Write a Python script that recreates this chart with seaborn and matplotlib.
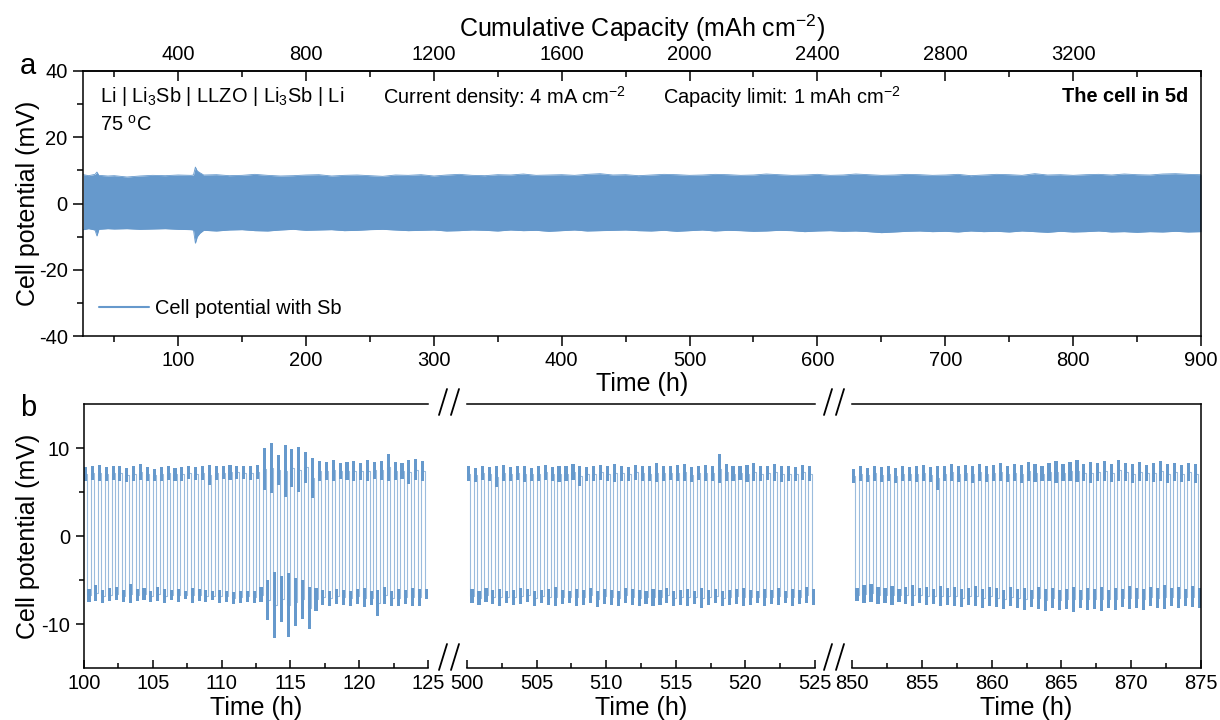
import numpy as np
import pandas as pd
import matplotlib
matplotlib.use("Agg")
import matplotlib.pyplot as plt
import seaborn as sns
from matplotlib.lines import Line2D
from matplotlib.ticker import MultipleLocator, FixedLocator

# ---------------- data ----------------
# Panel a: envelope of the cycling trace (mV)
env_t = [26, 30, 35, 36.5, 38, 45, 50, 60, 70, 80, 90, 100, 110, 112, 113.5, 115, 117, 120,
         130, 140, 150, 160, 170, 180, 190, 200, 210, 220, 230, 240, 250, 260, 270, 280, 290,
         300, 310, 320, 330, 340, 350, 360, 370, 380, 390, 400, 410, 420, 430, 440, 450, 460,
         470, 480, 490, 500, 510, 520, 530, 540, 550, 560, 570, 580, 590, 600, 610, 620, 630,
         640, 650, 660, 670, 680, 690, 700, 710, 720, 730, 740, 750, 760, 770, 780, 790, 800,
         810, 820, 830, 840, 850, 860, 870, 880, 890, 900]
env_top = [8.7, 8.4, 8.8, 9.5, 8.5, 8.3, 8.4, 8.0, 8.3, 8.5, 8.4, 8.6, 8.5, 8.6, 11.0, 9.8, 9.3, 8.6,
           8.7, 8.4, 8.5, 8.8, 8.5, 8.3, 8.4, 8.6, 8.7, 8.3, 8.5, 8.6, 8.4, 8.2, 8.6, 8.5, 8.7,
           8.3, 8.6, 8.8, 8.5, 8.4, 8.7, 8.6, 8.9, 8.5, 8.6, 8.7, 8.5, 8.8, 9.0, 8.6, 8.7, 8.4,
           8.6, 8.8, 8.7, 8.5, 8.6, 8.8, 8.7, 8.5, 8.6, 8.9, 8.7, 8.5, 8.6, 8.8, 8.5, 8.6, 8.9,
           8.7, 8.5, 8.6, 8.8, 8.7, 8.5, 8.6, 8.8, 8.4, 8.6, 8.8, 8.7, 8.5, 9.0, 8.6, 8.7, 8.5,
           8.7, 8.8, 8.6, 8.9, 8.7, 8.6, 8.9, 9.0, 8.8, 8.7]
env_bot = [-7.9, -7.6, -8.0, -9.8, -7.8, -7.6, -7.7, -7.6, -7.8, -7.7, -7.6, -7.8, -7.9, -8.0, -12.0, -10.0, -9.0, -8.1,
           -8.3, -8.0, -7.9, -8.2, -8.3, -8.0, -7.8, -8.1, -8.0, -7.9, -8.2, -8.1, -7.9, -7.8, -8.0, -8.2, -8.1,
           -8.0, -8.3, -8.2, -8.0, -8.1, -8.3, -8.0, -8.2, -8.1, -8.4, -8.2, -8.0, -8.3, -8.2, -8.1, -8.0, -8.2,
           -8.3, -8.1, -8.4, -8.2, -8.0, -8.3, -8.1, -8.2, -8.4, -8.3, -8.1, -8.2, -8.5, -8.3, -8.2, -8.4, -8.3,
           -8.5, -8.8, -8.6, -8.4, -8.3, -8.5, -8.4, -8.6, -8.3, -8.5, -8.4, -8.6, -8.3, -8.5, -8.7, -8.4, -8.6,
           -8.5, -8.3, -8.6, -8.5, -8.7, -8.5, -8.6, -8.4, -8.6, -8.5]

# Panel b: per-cycle plateau limits (mV); 50 cycles of 0.5 h in each 25 h window
seg_starts = [100, 500, 850]
seg_ticks = [[100, 105, 110, 115, 120, 125],
             [500, 505, 510, 515, 520, 525],
             [850, 855, 860, 865, 870, 875]]

pos_hi1 = [7.8, 7.9, 8.1, 7.8, 7.9, 8.0, 7.7, 7.9, 8.2, 7.8,
           7.6, 7.8, 7.9, 7.7, 7.8, 7.9, 7.8, 8.0, 8.1, 7.9,
           7.9, 8.1, 8.0, 7.9, 8.0, 8.1, 10.0, 10.6, 9.2, 10.3,
           9.9, 10.1, 9.6, 8.9, 8.5, 8.4, 8.6, 8.3, 8.4, 8.5,
           8.3, 8.6, 8.4, 8.5, 9.3, 8.4, 8.3, 8.6, 8.7, 8.5]
pos_lo1 = [6.2, 6.4, 6.3, 6.2, 6.4, 6.3, 6.1, 6.3, 6.4, 6.2,
           6.3, 6.2, 6.4, 6.3, 6.3, 6.5, 6.4, 6.4, 5.8, 6.4,
           6.5, 6.4, 6.5, 6.5, 6.4, 6.5, 5.2, 4.9, 5.8, 4.4,
           5.6, 5.0, 6.0, 4.3, 6.2, 6.4, 6.3, 6.5, 6.4, 6.3,
           6.4, 6.2, 6.5, 6.4, 6.3, 6.4, 6.5, 5.9, 6.4, 6.3]
neg_hi1 = [-6.0, -5.6, -6.1, -5.9, -5.8, -6.1, -5.5, -6.0, -5.9, -6.2,
           -5.8, -6.0, -6.1, -6.0, -6.2, -5.9, -6.0, -6.1, -6.3, -6.1,
           -6.2, -6.4, -6.3, -6.2, -6.3, -5.8, -5.0, -4.1, -4.6, -4.2,
           -4.8, -5.0, -5.8, -5.9, -6.1, -6.2, -6.0, -6.1, -6.2, -6.0,
           -5.9, -6.3, -6.1, -5.8, -6.2, -6.0, -6.1, -5.9, -6.0, -6.0]
neg_lo1 = [-7.5, -7.4, -7.6, -7.4, -7.3, -7.5, -7.6, -7.4, -7.3, -7.5,
           -7.4, -7.6, -7.3, -7.5, -7.2, -7.6, -7.4, -7.5, -7.3, -7.6,
           -7.5, -7.7, -7.6, -7.5, -7.6, -7.5, -9.5, -11.6, -9.8, -11.5,
           -10.2, -9.4, -10.6, -8.5, -7.8, -7.9, -7.7, -7.8, -8.0, -7.7,
           -8.1, -7.8, -9.1, -7.7, -7.9, -8.0, -7.7, -8.0, -7.9, -7.2]

pos_hi2 = [7.9, 7.7, 8.0, 7.8, 7.9, 8.1, 7.8, 7.9, 8.0, 7.7,
           7.9, 8.1, 7.8, 8.0, 7.9, 8.2, 7.9, 7.8, 8.0, 8.1,
           7.9, 8.2, 8.0, 7.8, 8.1, 8.0, 7.9, 8.3, 8.0, 7.9,
           8.1, 8.2, 7.8, 8.0, 8.1, 8.0, 9.3, 8.2, 8.0, 7.9,
           8.1, 8.3, 7.9, 8.0, 8.2, 7.9, 8.0, 7.8, 8.1, 7.9]
pos_lo2 = [6.3, 6.1, 6.4, 6.2, 5.6, 6.3, 6.2, 6.4, 6.1, 6.3,
           6.2, 6.4, 6.3, 6.1, 6.2, 6.4, 5.7, 6.3, 6.2, 6.4,
           6.3, 6.1, 6.3, 6.2, 6.4, 6.3, 6.2, 6.1, 6.3, 6.4,
           6.2, 6.3, 6.1, 6.4, 6.2, 6.3, 6.0, 6.3, 6.2, 6.4,
           6.1, 6.3, 6.2, 6.4, 6.3, 6.1, 6.2, 6.3, 6.4, 6.2]
neg_hi2 = [-6.0, -6.2, -5.9, -6.1, -6.0, -6.2, -6.1, -5.9, -6.0, -6.2,
           -6.1, -6.0, -5.8, -6.1, -6.2, -6.0, -6.1, -5.9, -6.2, -6.0,
           -6.1, -6.2, -5.9, -6.0, -6.1, -6.2, -6.0, -6.1, -5.9, -6.2,
           -6.1, -6.0, -6.2, -5.9, -6.1, -6.0, -6.2, -6.1, -6.0, -5.9,
           -6.1, -6.2, -6.0, -6.1, -5.9, -6.2, -6.0, -6.1, -5.8, -6.0]
neg_lo2 = [-7.6, -7.8, -7.5, -7.7, -7.9, -7.6, -7.8, -7.7, -7.5, -7.9,
           -7.6, -7.8, -8.0, -7.7, -7.6, -7.9, -7.8, -7.6, -8.1, -7.7,
           -7.8, -7.9, -7.6, -7.8, -8.0, -7.7, -7.9, -7.8, -7.6, -8.0,
           -7.8, -7.9, -7.7, -8.2, -7.8, -7.6, -7.9, -7.8, -7.7, -8.0,
           -7.8, -7.6, -7.9, -7.7, -7.8, -7.6, -7.9, -7.7, -7.6, -7.8]

pos_hi3 = [7.6, 7.9, 7.7, 8.0, 7.8, 7.9, 7.7, 8.0, 7.8, 7.9,
           8.1, 7.8, 7.9, 8.0, 8.2, 7.9, 8.1, 8.0, 8.2, 7.9,
           8.1, 8.3, 8.0, 8.2, 8.1, 8.4, 8.2, 8.0, 8.3, 8.5,
           8.2, 8.4, 8.6, 8.2, 8.4, 8.3, 8.5, 8.2, 8.6, 8.3,
           8.2, 8.4, 8.1, 8.3, 8.5, 8.2, 8.3, 8.1, 8.3, 8.2]
pos_lo3 = [6.0, 6.2, 6.1, 6.3, 6.1, 6.2, 6.0, 6.2, 6.3, 6.1,
           6.2, 6.1, 5.2, 6.2, 6.3, 6.1, 6.2, 6.0, 6.3, 6.1,
           6.2, 6.3, 6.1, 6.2, 6.0, 6.3, 6.1, 6.2, 6.3, 6.0,
           6.2, 6.3, 6.1, 6.2, 6.0, 6.3, 6.2, 6.1, 6.3, 6.2,
           6.0, 6.2, 6.3, 6.1, 6.2, 6.0, 6.3, 6.1, 6.2, 6.0]
neg_hi3 = [-5.9, -5.6, -5.5, -5.8, -5.9, -5.7, -6.0, -5.8, -5.6, -5.9,
           -5.8, -6.0, -5.7, -5.9, -5.8, -6.0, -5.9, -5.7, -6.0, -5.8,
           -5.9, -6.1, -5.8, -6.0, -5.9, -6.1, -5.8, -6.0, -5.9, -6.1,
           -6.0, -5.8, -6.1, -5.9, -6.0, -5.8, -6.1, -5.9, -6.0, -5.7,
           -5.9, -6.0, -5.8, -5.9, -5.6, -5.9, -5.8, -6.0, -5.7, -5.9]
neg_lo3 = [-7.4, -7.6, -7.5, -7.7, -7.6, -7.8, -7.5, -7.7, -7.9, -7.6,
           -7.8, -7.7, -8.0, -7.8, -7.9, -8.1, -7.8, -8.0, -8.2, -7.9,
           -8.1, -8.3, -8.0, -8.2, -8.4, -8.1, -8.3, -8.5, -8.2, -8.4,
           -8.3, -8.6, -8.2, -8.4, -8.3, -8.5, -8.2, -8.4, -8.1, -8.3,
           -8.2, -8.4, -8.0, -8.2, -8.3, -8.0, -8.2, -7.9, -8.1, -8.2]

cycle_h = 0.5          # 1 mAh cm-2 at 4 mA cm-2 -> 0.25 h per half cycle
cap_ticks = [400, 800, 1200, 1600, 2000, 2400, 2800, 3200]
time_ticks_a = [100, 200, 300, 400, 500, 600, 700, 800, 900]

# ---------------- style ----------------
sns.set_theme(style="ticks")
plt.rcParams["font.family"] = ["Liberation Sans", "DejaVu Sans"]
plt.rcParams["mathtext.fontset"] = "custom"
plt.rcParams["mathtext.rm"] = "Liberation Sans"
plt.rcParams["mathtext.it"] = "Liberation Sans"
plt.rcParams["mathtext.default"] = "regular"
plt.rcParams["axes.unicode_minus"] = False
plt.rcParams["axes.linewidth"] = 1.1
plt.rcParams["axes.edgecolor"] = "black"
plt.rcParams["text.color"] = "black"
plt.rcParams["axes.labelcolor"] = "black"
plt.rcParams["xtick.color"] = "black"
plt.rcParams["ytick.color"] = "black"

BLUE = "#6699cc"
TICK_FS = 14.5
LAB_FS = 18
ANN_FS = 14.4

W, H = 1220, 720
fig = plt.figure(figsize=(W / 100, H / 100), dpi=100)


def rect(x0, x1, ytop, ybot):
    return [x0 / W, 1 - ybot / H, (x1 - x0) / W, (ybot - ytop) / H]


# ---------------- panel a ----------------
axa = fig.add_axes(rect(83, 1201, 71, 336))
dfa = pd.DataFrame({"t": env_t, "top": env_top, "bot": env_bot})
axa.fill_between(dfa["t"], dfa["bot"], dfa["top"], color=BLUE, lw=0)
sns.lineplot(data=dfa, x="t", y="top", ax=axa, color=BLUE, lw=0.6, estimator=None, sort=False)
sns.lineplot(data=dfa, x="t", y="bot", ax=axa, color=BLUE, lw=0.6, estimator=None, sort=False)
axa.set_xlim(25.6, 900)
axa.set_ylim(-40, 40)
axa.xaxis.set_major_locator(FixedLocator(time_ticks_a))
axa.xaxis.set_minor_locator(MultipleLocator(50))
axa.yaxis.set_major_locator(MultipleLocator(20))
axa.yaxis.set_minor_locator(MultipleLocator(10))
axa.tick_params(axis="both", which="major", direction="out", length=7, width=1.1,
                labelsize=TICK_FS, pad=4)
axa.tick_params(axis="both", which="minor", direction="out", length=4, width=1.1)
axa.set_xlabel("Time (h)", fontsize=LAB_FS, labelpad=1)
axa.set_ylabel("Cell potential (mV)", fontsize=LAB_FS)
axa.yaxis.set_label_coords((40 - 83) / 1118, 0.5)

sec = axa.secondary_xaxis("top", functions=(lambda t: np.asarray(t) * 4.0,
                                             lambda c: np.asarray(c) / 4.0))
sec.xaxis.set_major_locator(FixedLocator(cap_ticks))
sec.xaxis.set_minor_locator(MultipleLocator(200))
sec.tick_params(axis="x", which="major", direction="in", length=7, width=1.1,
                labelsize=TICK_FS, pad=5)
sec.tick_params(axis="x", which="minor", direction="in", length=4, width=1.1)
sec.set_xlabel("Cumulative Capacity (mAh cm$^{-2}$)", fontsize=LAB_FS, labelpad=6)

axa.text(0.0152, 0.902, "Li | Li$_3$Sb | LLZO | Li$_3$Sb | Li", transform=axa.transAxes,
         fontsize=ANN_FS, ha="left", va="center")
axa.text(0.0152, 0.796, "75 $^o$C", transform=axa.transAxes, fontsize=ANN_FS, ha="left", va="center")
axa.text(0.268, 0.902, "Current density: 4 mA cm$^{-2}$", transform=axa.transAxes,
         fontsize=ANN_FS, ha="left", va="center")
axa.text(0.519, 0.902, "Capacity limit: 1 mAh cm$^{-2}$", transform=axa.transAxes,
         fontsize=ANN_FS, ha="left", va="center")
axa.text(0.9884, 0.902, "The cell in 5d", transform=axa.transAxes, fontsize=ANN_FS,
         ha="right", va="center", fontweight="bold")

handle = Line2D([], [], color=BLUE, lw=1.5)
axa.legend([handle], ["Cell potential with Sb"], loc="center left",
           bbox_to_anchor=(0.005, 0.102), frameon=False, fontsize=ANN_FS,
           handlelength=2.5, handletextpad=0.3, borderpad=0.2, borderaxespad=0.3)

fig.text(28 / W, 1 - 66 / H, "a", fontsize=21, ha="center", va="center")
fig.text(28 / W, 1 - 408 / H, "b", fontsize=21, ha="center", va="center")

# ---------------- panel b ----------------
segs = [(pos_hi1, pos_lo1, neg_hi1, neg_lo1),
        (pos_hi2, pos_lo2, neg_hi2, neg_lo2),
        (pos_hi3, pos_lo3, neg_hi3, neg_lo3)]
seg_px = [(84, 428), (467, 815), (852, 1201)]

for i, ((ph, pl, nh, nl), start, (x0, x1), ticks) in enumerate(
        zip(segs, seg_starts, seg_px, seg_ticks)):
    ax = fig.add_axes(rect(x0, x1, 404, 668))
    ph, pl, nh, nl = map(np.asarray, (ph, pl, nh, nl))
    n = len(ph)
    t0 = start + cycle_h * np.arange(n)
    th = t0 + cycle_h / 2
    pm = (ph + pl) / 2
    nm = (nh + nl) / 2
    xs, ys = [], []
    for k in range(n):
        xs += [t0[k], t0[k], th[k], th[k]]
        ys += [nm[k - 1] if k > 0 else pm[k], pm[k], pm[k], nm[k]]
    xs.append(start + 25)
    ys.append(nm[-1])
    dfb = pd.DataFrame({"t": xs, "v": ys})
    sns.lineplot(data=dfb, x="t", y="v", ax=ax, color=BLUE, lw=0.8, alpha=0.65,
                 estimator=None, sort=False)
    ax.bar(t0, ph - pl, bottom=pl, width=cycle_h / 2 * 0.9, align="edge", color=BLUE, lw=0)
    ax.bar(th, nh - nl, bottom=nl, width=cycle_h / 2 * 0.9, align="edge", color=BLUE, lw=0)

    ax.set_xlim(start, start + 25)
    ax.set_ylim(-15, 15)
    ax.xaxis.set_major_locator(FixedLocator(ticks))
    ax.xaxis.set_minor_locator(MultipleLocator(2.5))
    ax.tick_params(axis="x", which="major", direction="in", length=6, width=1.1,
                   labelsize=TICK_FS, pad=4)
    ax.tick_params(axis="x", which="minor", direction="in", length=3.5, width=1.1)
    ax.set_xlabel("Time (h)", fontsize=LAB_FS, labelpad=2.5)
    ax.spines["right"].set_visible(i == 2)
    ax.spines["left"].set_visible(i == 0)
    if i == 0:
        ax.yaxis.set_major_locator(FixedLocator([-10, 0, 10]))
        ax.yaxis.set_minor_locator(FixedLocator([-5, 5]))
        ax.tick_params(axis="y", which="major", direction="out", length=6, width=1.1,
                       labelsize=TICK_FS, pad=4)
        ax.tick_params(axis="y", which="minor", direction="out", length=3.5, width=1.1)
        ax.set_ylabel("Cell potential (mV)", fontsize=LAB_FS)
        ax.yaxis.set_label_coords((40 - 84) / 344, 0.5)
    else:
        ax.set_yticks([])
        ax.set_ylabel("")

# break marks "//"
for cx in (449, 834):
    for yc in (402, 657):
        for dx in (-6, 6):
            fig.add_artist(Line2D([(cx + dx - 4) / W, (cx + dx + 4) / W],
                                  [1 - (yc + 13) / H, 1 - (yc - 13) / H],
                                  color="black", lw=1.3))

fig.savefig("out.png", dpi=100)
